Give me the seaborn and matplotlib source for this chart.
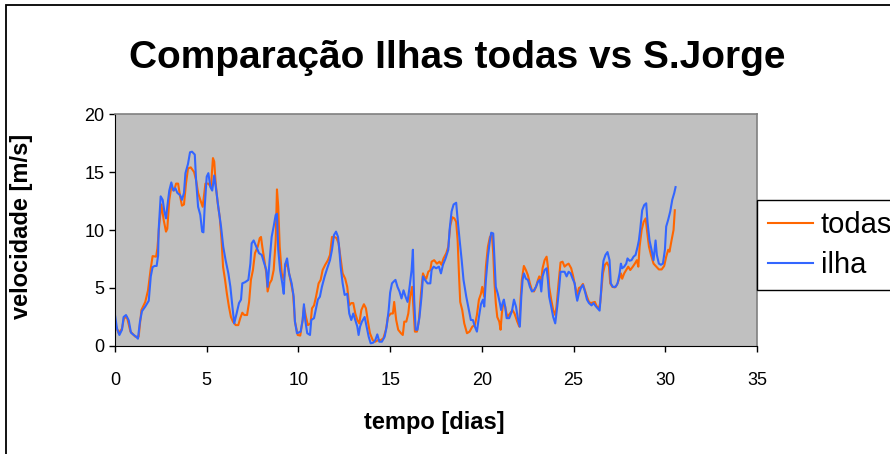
import numpy as np
import pandas as pd
import matplotlib
matplotlib.use('Agg')
import matplotlib.pyplot as plt
import seaborn as sns
from matplotlib.patches import Rectangle

# series (tempo in dias, velocidade in m/s)
todas_t = [0, 0.2, 0.38, 0.49, 0.65, 0.84, 1.11, 1.29, 1.44, 1.65, 1.8, 1.95, 2.05, 2.24, 2.31, 2.42, 2.53, 2.65,
           2.78, 2.85, 2.96, 3.07, 3.22, 3.33, 3.44, 3.55, 3.65, 3.76, 3.87, 3.98, 4.13, 4.31, 4.42, 4.53, 4.65,
           4.78, 4.93, 5.09, 5.23, 5.34, 5.41, 5.49, 5.6, 5.71, 5.81, 5.89, 6.0, 6.1, 6.21, 6.32, 6.43, 6.58, 6.72,
           6.83, 6.94, 7.05, 7.2, 7.31, 7.41, 7.52, 7.63, 7.78, 7.89, 7.96, 8.03, 8.14, 8.25, 8.32, 8.43, 8.54,
           8.65, 8.76, 8.83, 8.9, 8.98, 9.09, 9.2, 9.3, 9.42, 9.56, 9.71, 9.81, 9.96, 10.1, 10.23, 10.3, 10.41,
           10.52, 10.66, 10.74, 10.85, 10.96, 11.1, 11.21, 11.32, 11.46, 11.61, 11.72, 11.83, 11.97, 12.08, 12.19,
           12.3, 12.41, 12.55, 12.66, 12.77, 12.88, 12.99, 13.1, 13.21, 13.32, 13.43, 13.57, 13.68, 13.79, 13.9,
           14.05, 14.19, 14.34, 14.48, 14.63, 14.77, 14.88, 15.03, 15.15, 15.22, 15.33, 15.44, 15.59, 15.69, 15.77,
           15.88, 15.99, 16.09, 16.2, 16.28, 16.35, 16.46, 16.57, 16.68, 16.79, 16.86, 16.97, 17.08, 17.19, 17.26,
           17.4, 17.55, 17.69, 17.8, 17.91, 18.06, 18.17, 18.28, 18.39, 18.5, 18.6, 18.68, 18.75, 18.82, 18.93,
           19.04, 19.19, 19.33, 19.48, 19.62, 19.73, 19.84, 19.95, 20.02, 20.13, 20.22, 20.33, 20.44, 20.55, 20.62,
           20.69, 20.76, 20.84, 20.95, 21.02, 21.09, 21.16, 21.27, 21.38, 21.53, 21.67, 21.78, 21.93, 22.04, 22.11,
           22.18, 22.29, 22.4, 22.51, 22.62, 22.73, 22.84, 22.95, 23.06, 23.13, 23.24, 23.31, 23.42, 23.53, 23.6,
           23.67, 23.78, 23.89, 24.0, 24.07, 24.18, 24.29, 24.4, 24.51, 24.62, 24.73, 24.87, 24.98, 25.09, 25.2,
           25.29, 25.4, 25.51, 25.62, 25.73, 25.84, 25.94, 26.05, 26.16, 26.27, 26.38, 26.45, 26.53, 26.6, 26.71,
           26.82, 26.93, 27.0, 27.11, 27.25, 27.36, 27.47, 27.58, 27.65, 27.76, 27.87, 27.98, 28.09, 28.23, 28.34,
           28.45, 28.53, 28.6, 28.71, 28.82, 28.93, 29.0, 29.11, 29.22, 29.36, 29.51, 29.65, 29.8, 29.94, 30.05,
           30.16, 30.23, 30.34, 30.45, 30.52]
todas_v = [1.95, 1.1, 1.5, 2.4, 2.5, 1.25, 0.8, 0.8, 3.1, 3.8, 4.8, 6.7, 7.75, 7.7, 8.4, 10.6, 12.2, 10.9,
           9.86, 10.1, 12.6, 13.7, 13.4, 14.0, 14.0, 12.9, 12.1, 12.2, 14.0, 15.3, 15.4, 15.0, 14.3, 13.2, 12.6,
           12.0, 14.0, 14.0, 13.7, 16.2, 15.9, 14.0, 12.3, 11.1, 9.1, 6.84, 5.7, 4.5, 3.4, 2.5, 2.1, 1.8, 1.8,
           2.4, 2.87, 2.67, 2.67, 3.8, 5.7, 6.55, 8.0, 8.56, 9.3, 9.4, 8.56, 7.4, 6.26, 4.7, 5.4, 5.7,
           6.55, 9.1, 13.5, 12.0, 8.56, 6.26, 5.7, 7.1, 6.84, 5.7, 4.5, 2.1, 0.95, 0.9, 2.24, 3.4, 2.5,
           1.8, 1.95, 3.25, 3.5, 4.25, 5.4, 5.7, 6.55, 7.0, 7.4, 7.85, 9.4, 9.4, 9.3, 8.85,
           7.55, 6.26, 5.8, 5.1, 3.5, 3.7, 3.7, 2.8, 2.24, 1.95, 3.1, 3.6, 3.25, 2.1, 1.1,
           0.5, 0.37, 0.5, 0.5, 0.66, 1.4, 2.5, 2.8, 2.8, 3.8, 2.24, 1.4, 1.1, 0.95, 2.1,
           2.1, 2.8, 4.25, 5.1, 3.1, 1.24, 1.24, 2.24, 4.5, 6.26, 6.0, 5.8, 6.4, 6.55, 7.27,
           7.4, 7.1, 7.27, 7.0, 7.55, 8.0, 8.56, 10.4, 11.1, 11.0, 10.7, 9.1, 6.26, 3.8, 3.1,
           1.95, 1.1, 1.24, 1.67, 1.8, 2.67, 4.0, 4.5, 5.1, 4.25, 6.84, 8.56, 9.4, 9.57, 8.0,
           5.4, 3.7, 2.5, 2.1, 1.4, 2.8, 3.7, 3.4, 2.5, 2.8, 3.1, 2.8, 2.1, 1.67, 4.0,
           5.7, 6.9, 6.55, 6.1, 5.4, 4.8, 4.7, 5.1, 5.7, 6.0, 5.7, 6.7, 7.4, 7.7, 6.84,
           5.1, 4.0, 3.1, 2.67, 3.4, 5.4, 7.2, 7.27, 6.84, 7.0, 7.1, 6.7, 6.0, 5.1, 4.4,
           5.0, 5.1, 5.35, 4.8, 4.25, 3.8, 3.7, 3.75, 3.8, 3.4, 3.25, 3.7, 5.1, 6.26, 7.0,
           7.2, 6.84, 5.4, 5.1, 5.05, 5.26, 5.7, 6.26, 5.8, 6.26, 6.55, 6.84, 6.55, 6.84, 7.1,
           7.4, 6.84, 8.56, 10.0, 10.7, 11.0, 10.0, 8.56, 7.85, 7.1, 6.84, 6.6, 6.6, 6.9, 7.7,
           8.3, 8.13, 9.1, 10.0, 11.7]

ilha_t = [0, 0.11, 0.24, 0.38, 0.47, 0.6, 0.75, 0.87, 1.02, 1.15, 1.25, 1.36, 1.47, 1.65, 1.84, 1.95, 2.05, 2.16,
          2.27, 2.35, 2.38, 2.49, 2.6, 2.69, 2.78, 2.85, 2.96, 3.07, 3.18, 3.29, 3.4, 3.55, 3.65, 3.76, 3.84, 3.98,
          4.09, 4.2, 4.35, 4.42, 4.53, 4.65, 4.75, 4.82, 4.89, 5.0, 5.09, 5.2, 5.3, 5.41, 5.52, 5.63, 5.78, 5.9,
          6.03, 6.18, 6.29, 6.4, 6.5, 6.63, 6.76, 6.87, 6.94, 7.09, 7.27, 7.38, 7.45, 7.56, 7.7, 7.85, 8.0, 8.14,
          8.25, 8.32, 8.43, 8.54, 8.65, 8.76, 8.83, 8.9, 9.0, 9.12, 9.2, 9.27, 9.38, 9.49, 9.63, 9.74, 9.81, 9.92,
          10.12, 10.23, 10.3, 10.37, 10.48, 10.63, 10.7, 10.85, 10.96, 11.06, 11.17, 11.28, 11.43, 11.57, 11.72,
          11.83, 11.94, 12.05, 12.16, 12.23, 12.3, 12.41, 12.52, 12.66, 12.77, 12.88, 12.99, 13.1, 13.21, 13.28,
          13.36, 13.46, 13.61, 13.72, 13.83, 13.94, 14.08, 14.19, 14.3, 14.41, 14.55, 14.7, 14.81, 14.92, 15.0,
          15.1, 15.19, 15.29, 15.4, 15.51, 15.62, 15.73, 15.84, 15.95, 16.06, 16.17, 16.24, 16.31, 16.39, 16.49,
          16.6, 16.71, 16.79, 16.9, 17.04, 17.19, 17.26, 17.37, 17.51, 17.66, 17.77, 17.88, 18.02, 18.17, 18.24,
          18.35, 18.46, 18.6, 18.68, 18.79, 18.9, 19.0, 19.15, 19.29, 19.4, 19.51, 19.62, 19.73, 19.84, 19.95,
          20.06, 20.13, 20.22, 20.33, 20.44, 20.51, 20.62, 20.69, 20.76, 20.87, 20.98, 21.05, 21.13, 21.2, 21.27,
          21.35, 21.49, 21.64, 21.75, 21.86, 21.96, 22.07, 22.15, 22.22, 22.29, 22.4, 22.51, 22.62, 22.73, 22.84,
          22.95, 23.06, 23.16, 23.24, 23.31, 23.42, 23.53, 23.6, 23.67, 23.78, 23.89, 24.0, 24.11, 24.22, 24.29,
          24.4, 24.51, 24.62, 24.73, 24.84, 24.95, 25.06, 25.13, 25.2, 25.29, 25.4, 25.51, 25.62, 25.73, 25.84,
          25.98, 26.09, 26.2, 26.31, 26.42, 26.49, 26.56, 26.63, 26.74, 26.85, 26.96, 27.03, 27.14, 27.29, 27.4,
          27.51, 27.58, 27.65, 27.76, 27.87, 27.94, 28.05, 28.16, 28.27, 28.38, 28.49, 28.56, 28.63, 28.74, 28.85,
          28.96, 29.03, 29.14, 29.25, 29.36, 29.47, 29.54, 29.65, 29.76, 29.87, 29.98, 30.05, 30.16, 30.27, 30.38,
          30.49, 30.56]
ilha_v = [2.67, 1.5, 0.95, 1.4, 2.5, 2.67, 2.2, 1.15, 0.95, 0.8, 0.63, 2.1, 3.0, 3.4, 3.9, 6.0, 6.8, 6.9,
          6.9, 7.8, 10.0, 12.9, 12.6, 11.6, 11.0, 12.0, 13.4, 14.1, 13.4, 13.6, 13.2, 13.0, 12.6, 13.2, 14.9, 15.7,
          16.7, 16.75, 16.5, 14.3, 12.0, 11.3, 9.86, 9.8, 12.0, 14.6, 14.9, 13.7, 13.4, 14.7, 13.4, 12.0, 10.3, 8.56,
          7.4, 6.26, 5.1, 3.4, 1.95, 2.8, 3.7, 4.0, 5.4, 5.5, 5.7, 7.1, 8.85, 9.1, 8.56, 8.0, 7.85, 7.1,
          6.55, 5.1, 7.4, 9.4, 10.3, 11.3, 11.4, 8.3, 6.55, 5.4, 4.5, 7.0, 7.55, 6.26, 5.4, 4.25, 2.1, 1.1,
          1.24, 2.24, 3.6, 2.24, 1.1, 0.95, 2.24, 2.4, 3.25, 4.0, 4.25, 5.1, 6.0, 6.7, 7.4,
          8.3, 9.57, 9.86, 9.4, 8.3, 6.84, 5.4, 4.4, 4.5, 2.8, 2.24, 2.8, 2.24, 1.67, 0.95,
          1.67, 2.1, 2.5, 1.67, 0.8, 0.23, 0.29, 0.5, 1.0, 0.37, 0.37, 0.8, 1.67, 3.1, 4.6,
          5.4, 5.55, 5.7, 5.1, 4.7, 4.1, 4.8, 4.25, 3.8, 5.1, 6.55, 8.3, 4.0, 1.4, 1.4,
          2.5, 4.25, 6.0, 5.7, 5.4, 5.4, 6.55, 6.84, 6.7, 6.84, 6.26, 7.0, 7.55, 8.3, 10.0,
          11.6, 12.2, 12.35, 10.9, 9.1, 7.4, 5.7, 4.25, 3.1, 2.24, 2.24, 1.67, 1.24, 2.5, 3.6,
          4.0, 3.4, 5.7, 7.7, 9.1, 9.77, 9.7, 7.4, 5.1, 4.5, 3.7, 3.1, 3.7, 4.0, 3.4,
          2.4, 2.4, 3.0, 4.0, 3.4, 2.4, 1.67, 4.25, 5.7, 6.26, 5.8, 5.7, 5.1, 4.7, 4.8,
          5.1, 5.55, 5.7, 4.7, 6.0, 6.55, 6.7, 5.7, 4.25, 3.4, 2.5, 1.95, 3.4, 5.1, 6.4,
          6.4, 6.4, 6.0, 6.4, 6.26, 5.8, 5.4, 4.5, 3.9, 4.5, 5.0, 5.26, 4.7, 4.0, 3.7,
          3.5, 3.7, 3.45, 3.25, 3.05, 4.5, 6.26, 7.35, 7.85, 8.1, 7.4, 5.4, 5.1, 5.1, 5.4,
          6.26, 7.1, 6.7, 6.84, 7.1, 7.55, 7.35, 7.4, 7.7, 7.85, 8.56, 9.1, 10.0, 11.7, 12.15,
          12.3, 10.7, 9.1, 8.3, 7.4, 9.1, 7.85, 7.1, 7.0, 7.1, 8.3, 10.3, 10.9, 11.6, 12.6,
          13.2, 13.7]

df = pd.concat([
    pd.DataFrame({'tempo': todas_t, 'vel': todas_v, 'serie': 'todas'}),
    pd.DataFrame({'tempo': ilha_t, 'vel': ilha_v, 'serie': 'ilha'}),
], ignore_index=True)

plt.rcParams['font.family'] = ['Liberation Sans', 'DejaVu Sans']

fig = plt.figure(figsize=(8.9, 4.54), dpi=100)
ax = fig.add_axes([115/890, 1-346/454, 642/890, 232/454])
ax.set_facecolor('#C0C0C0')

sns.lineplot(data=df, x='tempo', y='vel', hue='serie', hue_order=['todas', 'ilha'],
             palette={'todas': '#FF6600', 'ilha': '#3366FF'}, estimator=None, sort=False,
             linewidth=1.5, ax=ax)

ax.set_xlim(0, 35)
ax.set_ylim(0, 20)
ax.set_xticks(range(0, 36, 5))
ax.set_yticks(range(0, 21, 5))
ax.tick_params(labelsize=13, length=4, width=1, direction='out')
ax.tick_params(axis='x', pad=15)
for s in ['top', 'right']:
    ax.spines[s].set_color('#808080')
    ax.spines[s].set_linewidth(1.2)
for s in ['left', 'bottom']:
    ax.spines[s].set_color('black')

ax.set_xlabel('tempo [dias]', fontsize=17, fontweight='bold')
ax.set_ylabel('velocidade [m/s]', fontsize=17, fontweight='bold')
ax.xaxis.set_label_coords(0.498, -0.28)
ax.yaxis.set_label_coords(-0.128, 0.515)

handles, labels = ax.get_legend_handles_labels()
ax.legend(handles, labels, loc='upper left', bbox_to_anchor=(1.0, 0.63), borderaxespad=0,
          fontsize=21, frameon=True, fancybox=False, edgecolor='black', framealpha=1,
          handlelength=1.54, handletextpad=0.27, labelspacing=0.42, borderpad=0.38)
ax.get_legend().get_frame().set_linewidth(1.0)

fig.text(0.5135, 1-58/454, 'Comparação Ilhas todas vs S.Jorge', fontsize=28, fontweight='bold',
         ha='center', va='center')

# chart border (right/bottom fall outside the image)
fig.patches.append(Rectangle((5.5/890, -0.1), 1.2, 1.1 - 5.5/454, transform=fig.transFigure,
                             fill=False, edgecolor='black', linewidth=1.3, clip_on=False))

fig.savefig('out.png', dpi=100)
